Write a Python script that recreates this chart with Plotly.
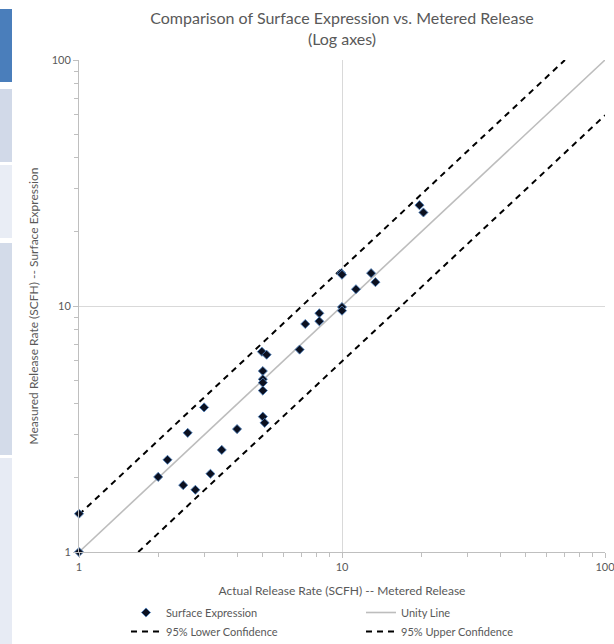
import plotly.graph_objects as go

# ---- data ----
actual_release = [1, 1, 2.0, 2.17, 2.59, 2.99, 2.49, 2.77, 3.16, 3.49, 3.99,
                  4.96, 5.17, 5.0, 5.0, 5.0, 5.0, 5.0, 5.08, 6.9, 7.25, 8.2, 8.2,
                  10.0, 10.0, 9.94, 10.0, 11.3, 12.9, 13.4, 19.7, 20.4]
measured_release = [1.43, 1.0, 2.02, 2.37, 3.05, 3.87, 1.87, 1.79, 2.08, 2.60, 3.16,
                    6.52, 6.34, 5.44, 5.04, 4.88, 4.53, 3.55, 3.35, 6.65, 8.45, 9.34, 8.67,
                    9.9, 9.57, 13.6, 13.4, 11.7, 13.6, 12.5, 25.7, 24.0]

unity_x = [1, 100]
unity_y = [1, 100]
lower_x = [1.68, 100]
lower_y = [1, 59.6]
upper_x = [1, 70.4]
upper_y = [1.42, 100]

axis_tickvals = [1, 10, 100]
axis_ticktext = ["1", "10", "100"]

title_text = "Comparison of Surface Expression vs. Metered Release<br>(Log axes)"
x_title = "Actual Release Rate (SCFH) -- Metered Release"
y_title = "Measured Release Rate (SCFH) -- Surface Expression"

FONT = "Lato, 'Open Sans', sans-serif"
TXT = "#595959"
W, H = 614, 644

fig = go.Figure()
fig.add_trace(go.Scatter(
    x=unity_x, y=unity_y, mode="lines", name="Unity Line",
    line=dict(color="#bdbdbd", width=1.6), legendrank=2,
))
fig.add_trace(go.Scatter(
    x=lower_x, y=lower_y, mode="lines", name="95% Lower Confidence",
    line=dict(color="#000000", width=2, dash="6px,5px"), legendrank=3,
))
fig.add_trace(go.Scatter(
    x=upper_x, y=upper_y, mode="lines", name="95% Upper Confidence",
    line=dict(color="#000000", width=2, dash="6px,5px"), legendrank=4,
))
fig.add_trace(go.Scatter(
    x=actual_release, y=measured_release, mode="markers", name="Surface Expression",
    marker=dict(symbol="diamond", size=7, color="#0b1020",
                line=dict(color="rgba(79,129,189,0.85)", width=1)),
    cliponaxis=False, legendrank=1,
))

axis_common = dict(
    type="log", range=[0, 2], tickvals=axis_tickvals, ticktext=axis_ticktext,
    showgrid=True, gridcolor="#d9d9d9", gridwidth=1,
    showline=True, linecolor="#bfbfbf", linewidth=1,
    ticks="outside", ticklen=5, tickcolor="#bfbfbf",
    minor=dict(dtick="D1", ticks="outside", ticklen=4, tickcolor="#bfbfbf", showgrid=False),
    tickfont=dict(family=FONT, size=11, color=TXT),
    zeroline=False, automargin=False, ticklabeloverflow="allow",
)

fig.update_xaxes(**axis_common, title=dict(text=x_title, font=dict(family=FONT, size=12, color=TXT), standoff=14))
fig.update_yaxes(**axis_common, title=dict(text=y_title, font=dict(family=FONT, size=12, color=TXT), standoff=10))

# decorative left strip (spreadsheet panels behind the chart)
strip = [
    (9, 82, "#4a7ebb"),
    (89, 162, "#d1d9e8"),
    (165, 238, "#e9edf5"),
    (243, 455, "#d3dbe9"),
    (458, 644, "#e7ebf4"),
]
shapes = []
for top, bottom, col in strip:
    shapes.append(dict(type="rect", xref="paper", yref="paper",
                       x0=(0 - 79) / 526, x1=(12 - 79) / 526,
                       y0=(552 - bottom) / 492, y1=(552 - top) / 492,
                       fillcolor=col, line=dict(width=0), layer="below"))

fig.update_layout(
    width=W, height=H,
    margin=dict(l=79, r=9, t=60, b=92, autoexpand=False),
    paper_bgcolor="white", plot_bgcolor="white",
    title=dict(text=title_text, x=0.5, xref="paper", yref="container",
               y=1 - 24 / H, yanchor="middle",
               font=dict(family=FONT, size=16, color=TXT)),
    showlegend=True,
    legend=dict(orientation="h", xref="container", yref="container",
                x=126 / W, y=1 - 598 / H, xanchor="left", yanchor="top",
                entrywidth=190, entrywidthmode="pixels",
                font=dict(family=FONT, size=11, color=TXT),
                bgcolor="rgba(0,0,0,0)", tracegroupgap=0),
    shapes=shapes,
    font=dict(family=FONT, color=TXT),
)

fig.write_html("out.html", config={"displayModeBar": False},
               post_script="document.body.style.margin='0px';")
